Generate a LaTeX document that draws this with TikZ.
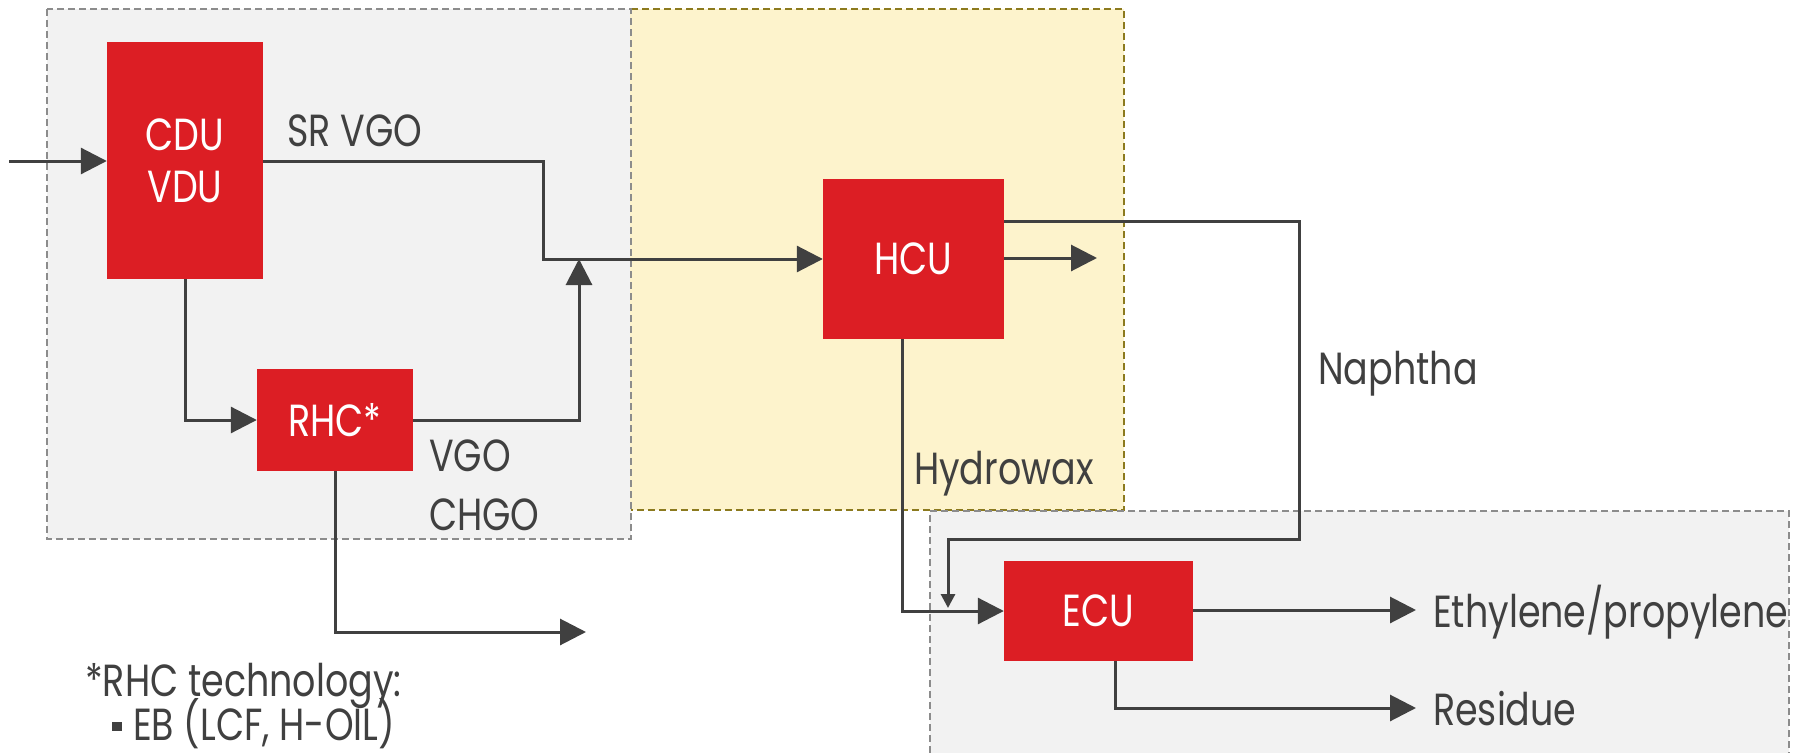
\documentclass[tikz,border=0pt]{standalone}
\usepackage{fontspec}
\setmainfont{Poppins}[FakeStretch=0.81]
\usetikzlibrary{arrows.meta}
\definecolor{unitred}{HTML}{DC1E24}
\definecolor{ink}{HTML}{404040}
\definecolor{panelgrey}{HTML}{F2F2F2}
\definecolor{panelyellow}{HTML}{FDF3CC}
\definecolor{olivedash}{HTML}{8C7A1E}
\definecolor{dashgrey}{HTML}{8C8C8C}
\begin{document}
\begin{tikzpicture}[x=1bp,y=-1bp,
  unit/.style={fill=unitred, text=white, inner sep=0, align=center, font=\fontsize{45bp}{52bp}\selectfont},
  lbl/.style={anchor=base west, inner sep=0, text=ink, font=\fontsize{45bp}{52bp}\selectfont},
  flow/.style={draw=ink, line width=3bp, -{Triangle[length=26bp,width=26bp]}},
  smallflow/.style={draw=ink, line width=3bp, -{Triangle[length=14bp,width=14bp]}},
  greypanel/.style={draw=dashgrey, line width=1.6bp, dash pattern=on 7bp off 4bp},
  yellowpanel/.style={draw=olivedash, line width=1.6bp, dash pattern=on 7bp off 4bp}
]
\useasboundingbox (0,0) rectangle (1801,753);
% panels
\fill[panelgrey] (47,9) rectangle (631,539);
\fill[panelyellow] (630,9) rectangle (1124,510);
\draw[yellowpanel] (631,9) -- (1124,9) -- (1124,510) -- (631,510);
\draw[greypanel] (47,9) rectangle (631,539);
\fill[panelgrey] (930,511) rectangle (1789,753);
\draw[greypanel] (930,753) -- (930,511) -- (1789,511) -- (1789,753);
% units
\node[unit, minimum width=156bp, minimum height=237bp] (CDU) at (185,160.5) {CDU\\VDU};
\node[unit, minimum width=156bp, minimum height=102bp] (RHC) at (335,420) {RHC*};
\node[unit, minimum width=181bp, minimum height=160bp] (HCU) at (913.5,259) {HCU};
\node[unit, minimum width=189bp, minimum height=100bp] (ECU) at (1098.5,611) {ECU};
% coordinates
\coordinate (feed) at (9,161);
\coordinate (b1) at (543,161);
\coordinate (mix) at (579,259);
\coordinate (rhcout) at (586,632);
\coordinate (n1) at (1299,221);
\coordinate (n2) at (1299,539);
\coordinate (n3) at (948,539);
\coordinate (n4) at (948,608);
\coordinate (hcuout) at (1097,258);
\coordinate (hw) at (902,339);
\coordinate (eth) at (1416,610);
\coordinate (res0) at (1115,661);
\coordinate (res) at (1416,708);
% connectors
\draw[flow] (feed) -- (feed -| CDU.west);
\draw[flow] (CDU.east |- b1) -- (b1) |- (HCU.west);
\draw[flow] (CDU.south) |- (RHC.west);
\draw[flow] (RHC.east) -| (mix);
\draw[flow] (RHC.south) |- (rhcout);
\draw[smallflow] (HCU.east |- n1) -- (n1) -- (n2) -- (n3) -- (n4);
\draw[flow] (HCU.east |- hcuout) -- (hcuout);
\draw[flow] (hw) |- (ECU.west);
\draw[flow] (ECU.east |- eth) -- (eth);
\draw[flow] (res0) |- (res);
% labels
\node[lbl] (lsrvgo) at (287,146) {SR VGO};
\node[lbl] (lvgo) at (429,471) {VGO};
\node[lbl] (lchgo) at (429,530) {CHGO};
\node[lbl] (lhw) at (914,484) {Hydrowax};
\node[lbl] (lnaph) at (1318,384) {Naphtha};
\node[lbl] (leth) at (1433,627) {Ethylene/propylene};
\node[lbl] (lres) at (1433,725) {Residue};
\node[lbl] (lnote) at (85,696) {*RHC technology:};
\fill[ink] (112,722) rectangle (122,731);
\node[lbl] (lbullet) at (133,740) {EB (LCF, H-OIL)};
\end{tikzpicture}
\end{document}
